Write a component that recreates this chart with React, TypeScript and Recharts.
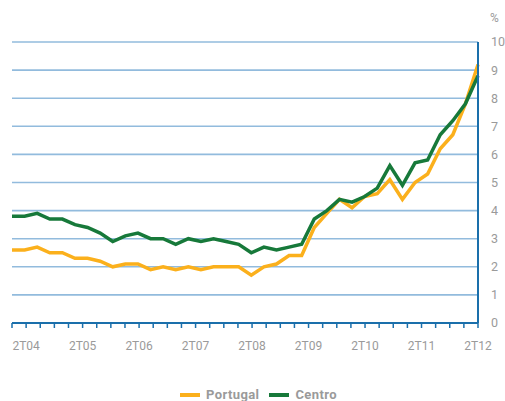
import React from 'react';
import { LineChart, Line, XAxis, YAxis, CartesianGrid, Legend } from 'recharts';

const periodos = [
  '1T03', '2T03', '3T03', '4T03', '1T04', '2T04', '3T04', '4T04',
  '1T05', '2T05', '3T05', '4T05', '1T06', '2T06', '3T06', '4T06',
  '1T07', '2T07', '3T07', '4T07', '1T08', '2T08', '3T08', '4T08',
  '1T09', '2T09', '3T09', '4T09', '1T10', '2T10', '3T10', '4T10',
  '1T11', '2T11', '3T11', '4T11', '1T12', '2T12',
];

const portugal = [
  2.6, 2.6, 2.7, 2.5, 2.5, 2.3, 2.3, 2.2, 2.0, 2.1,
  2.1, 1.9, 2.0, 1.9, 2.0, 1.9, 2.0, 2.0, 2.0, 1.7,
  2.0, 2.1, 2.4, 2.4, 3.4, 3.9, 4.4, 4.1, 4.5, 4.6,
  5.1, 4.4, 5.0, 5.3, 6.2, 6.7, 7.8, 9.2,
];

const centro = [
  3.8, 3.8, 3.9, 3.7, 3.7, 3.5, 3.4, 3.2, 2.9, 3.1,
  3.2, 3.0, 3.0, 2.8, 3.0, 2.9, 3.0, 2.9, 2.8, 2.5,
  2.7, 2.6, 2.7, 2.8, 3.7, 4.0, 4.4, 4.3, 4.5, 4.8,
  5.6, 4.9, 5.7, 5.8, 6.7, 7.2, 7.8, 8.8,
];

// eixo de trimestres (34 marcas), rotulo so nos 2T
const rotulosX = [
  '', '2T04', '', '', '', '2T05', '', '', '', '2T06', '', '', '',
  '2T07', '', '', '', '2T08', '', '', '', '2T09', '', '', '',
  '2T10', '', '', '', '2T11', '', '', '', '2T12',
];
const marcasX = rotulosX.map((_, i) => i);
const marcasY = [0, 1, 2, 3, 4, 5, 6, 7, 8, 9, 10];

const data = periodos.map((p, i) => ({ p, portugal: portugal[i], centro: centro[i] }));
const trimestres = rotulosX.map((r, i) => ({ t: i, r }));

const ORANGE = '#fbb01c';
const GREEN = '#17793a';
const AXIS = '#1a6fab';
const GRID = '#92bbdd';
const TEXT = '#9a9a9a';
const FONT = 'Roboto, sans-serif';

const series = [
  { key: 'portugal', name: 'Portugal', color: ORANGE },
  { key: 'centro', name: 'Centro', color: GREEN },
];

const renderLegend = () => (
  <div style={{ display: 'flex', justifyContent: 'center', alignItems: 'center', fontFamily: FONT, fontSize: 13, fontWeight: 700, letterSpacing: 0.4, color: TEXT, paddingLeft: 22 }}>
    {series.map((s) => (
      <div key={s.key} style={{ display: 'flex', alignItems: 'center', marginRight: 10 }}>
        <span style={{ display: 'inline-block', width: 20, height: 4, background: s.color, marginRight: 6 }} />
        <span>{s.name}</span>
      </div>
    ))}
  </div>
);

export default function App() {
  return (
    <div style={{ position: 'absolute', left: 0, top: 0, width: 505, height: 401, background: '#fff' }}>
      <span style={{ position: 'absolute', left: 490, top: 11, fontFamily: FONT, fontSize: 12, color: TEXT }}>%</span>
      <LineChart width={505} height={401} data={data} margin={{ top: 42, right: 0, left: 12, bottom: 48 }}>
        <CartesianGrid vertical={false} stroke={GRID} strokeWidth={1.6} />
        <XAxis xAxisId="data" dataKey="p" type="category" scale="point" height={0} hide />
        <XAxis
          xAxisId="q"
          dataKey="t"
          type="number"
          domain={[0, 33]}
          allowDataOverflow
          ticks={marcasX}
          interval={0}
          tickFormatter={(v: number) => rotulosX[v]}
          height={30}
          stroke={AXIS}
          axisLine={{ stroke: AXIS, strokeWidth: 2 }}
          tickLine={{ stroke: AXIS, strokeWidth: 1.5 }}
          tickSize={5}
          tickMargin={13}
          tick={{ fill: TEXT, fontSize: 12, fontFamily: FONT }}
        />
        <YAxis
          yAxisId="l"
          orientation="left"
          width={0}
          domain={[0, 10]}
          ticks={marcasY}
          tick={false}
          tickLine={false}
          axisLine={{ stroke: GRID, strokeWidth: 2 }}
        />
        <YAxis
          orientation="right"
          width={27}
          domain={[0, 10]}
          ticks={marcasY}
          interval={0}
          axisLine={{ stroke: AXIS, strokeWidth: 2 }}
          tickLine={false}
          tickSize={6}
          tickMargin={7}
          tick={{ fill: TEXT, fontSize: 12.5, fontFamily: FONT, textAnchor: 'start' }}
        />
        <Legend verticalAlign="middle" align="center" layout="horizontal" content={renderLegend}
          wrapperStyle={{ top: 387, left: 0, width: 505 }} />
        {/* serie vazia so para dar dados ao eixo de trimestres */}
        <Line xAxisId="q" data={trimestres} dataKey="vazio" stroke="none" dot={false} activeDot={false}
          legendType="none" isAnimationActive={false} />
        {series.map((s) => (
          <Line
            key={s.key}
            xAxisId="data"
            type="linear"
            dataKey={s.key}
            name={s.name}
            stroke={s.color}
            strokeWidth={3.5}
            dot={false}
            activeDot={false}
            isAnimationActive={false}
          />
        ))}
      </LineChart>
    </div>
  );
}
